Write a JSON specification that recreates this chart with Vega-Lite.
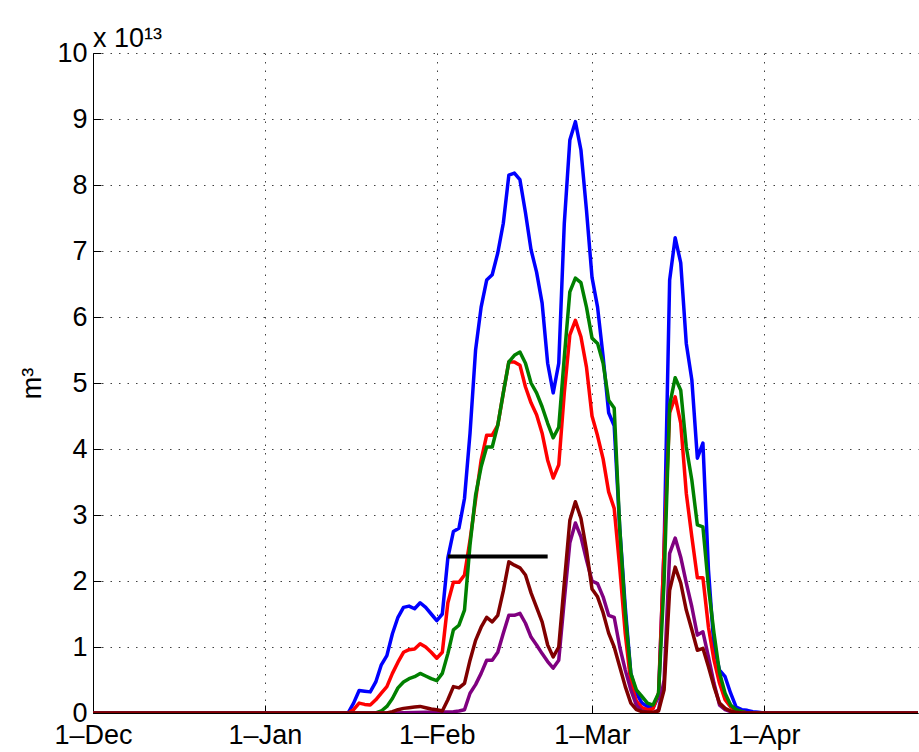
{
  "$schema": "https://vega.github.io/schema/vega-lite/v6.json",
  "width": 825,
  "height": 660,
  "autosize": {"type": "none"},
  "padding": {"left": 93, "top": 53, "right": 1, "bottom": 39},
  "background": "white",
  "config": {"view": {"stroke": null}, "font": "Liberation Sans"},
  "title": {"text": "x 10¹³", "anchor": "start", "frame": "group", "fontSize": 27, "fontWeight": "normal", "font": "Liberation Sans", "color": "black", "offset": -14},
  "datasets": {
    "series": [
      {"s":"blue","date":"2010-12-01","v":0},
      {"s":"blue","date":"2011-01-16","v":0},
      {"s":"blue","date":"2011-01-17","v":0.15e13},
      {"s":"blue","date":"2011-01-18","v":0.34e13},
      {"s":"blue","date":"2011-01-19","v":0.33e13},
      {"s":"blue","date":"2011-01-20","v":0.32e13},
      {"s":"blue","date":"2011-01-21","v":0.47e13},
      {"s":"blue","date":"2011-01-22","v":0.73e13},
      {"s":"blue","date":"2011-01-23","v":0.87e13},
      {"s":"blue","date":"2011-01-24","v":1.2e13},
      {"s":"blue","date":"2011-01-25","v":1.45e13},
      {"s":"blue","date":"2011-01-26","v":1.6e13},
      {"s":"blue","date":"2011-01-27","v":1.62e13},
      {"s":"blue","date":"2011-01-28","v":1.58e13},
      {"s":"blue","date":"2011-01-29","v":1.67e13},
      {"s":"blue","date":"2011-01-30","v":1.6e13},
      {"s":"blue","date":"2011-01-31","v":1.5e13},
      {"s":"blue","date":"2011-02-01","v":1.4e13},
      {"s":"blue","date":"2011-02-02","v":1.5e13},
      {"s":"blue","date":"2011-02-03","v":2.35e13},
      {"s":"blue","date":"2011-02-04","v":2.75e13},
      {"s":"blue","date":"2011-02-05","v":2.8e13},
      {"s":"blue","date":"2011-02-06","v":3.25e13},
      {"s":"blue","date":"2011-02-07","v":4.24e13},
      {"s":"blue","date":"2011-02-08","v":5.5e13},
      {"s":"blue","date":"2011-02-09","v":6.15e13},
      {"s":"blue","date":"2011-02-10","v":6.56e13},
      {"s":"blue","date":"2011-02-11","v":6.64e13},
      {"s":"blue","date":"2011-02-12","v":6.97e13},
      {"s":"blue","date":"2011-02-13","v":7.42e13},
      {"s":"blue","date":"2011-02-14","v":8.15e13},
      {"s":"blue","date":"2011-02-15","v":8.18e13},
      {"s":"blue","date":"2011-02-16","v":8.08e13},
      {"s":"blue","date":"2011-02-17","v":7.58e13},
      {"s":"blue","date":"2011-02-18","v":7.02e13},
      {"s":"blue","date":"2011-02-19","v":6.68e13},
      {"s":"blue","date":"2011-02-20","v":6.21e13},
      {"s":"blue","date":"2011-02-21","v":5.3e13},
      {"s":"blue","date":"2011-02-22","v":4.85e13},
      {"s":"blue","date":"2011-02-23","v":5.3e13},
      {"s":"blue","date":"2011-02-24","v":7.42e13},
      {"s":"blue","date":"2011-02-25","v":8.68e13},
      {"s":"blue","date":"2011-02-26","v":8.96e13},
      {"s":"blue","date":"2011-02-27","v":8.53e13},
      {"s":"blue","date":"2011-02-28","v":7.62e13},
      {"s":"blue","date":"2011-03-01","v":6.6e13},
      {"s":"blue","date":"2011-03-02","v":6.15e13},
      {"s":"blue","date":"2011-03-03","v":5.4e13},
      {"s":"blue","date":"2011-03-04","v":4.55e13},
      {"s":"blue","date":"2011-03-05","v":4.35e13},
      {"s":"blue","date":"2011-03-06","v":2.8e13},
      {"s":"blue","date":"2011-03-07","v":1.6e13},
      {"s":"blue","date":"2011-03-08","v":0.6e13},
      {"s":"blue","date":"2011-03-09","v":0.3e13},
      {"s":"blue","date":"2011-03-10","v":0.15e13},
      {"s":"blue","date":"2011-03-11","v":0.1e13},
      {"s":"blue","date":"2011-03-12","v":0.08e13},
      {"s":"blue","date":"2011-03-13","v":0.25e13},
      {"s":"blue","date":"2011-03-14","v":2.5e13},
      {"s":"blue","date":"2011-03-15","v":6.56e13},
      {"s":"blue","date":"2011-03-16","v":7.2e13},
      {"s":"blue","date":"2011-03-17","v":6.82e13},
      {"s":"blue","date":"2011-03-18","v":5.6e13},
      {"s":"blue","date":"2011-03-19","v":5.05e13},
      {"s":"blue","date":"2011-03-20","v":3.86e13},
      {"s":"blue","date":"2011-03-21","v":4.09e13},
      {"s":"blue","date":"2011-03-22","v":2.17e13},
      {"s":"blue","date":"2011-03-23","v":1.0e13},
      {"s":"blue","date":"2011-03-24","v":0.65e13},
      {"s":"blue","date":"2011-03-25","v":0.55e13},
      {"s":"blue","date":"2011-03-26","v":0.3e13},
      {"s":"blue","date":"2011-03-27","v":0.09e13},
      {"s":"blue","date":"2011-03-28","v":0.05e13},
      {"s":"blue","date":"2011-03-29","v":0.04e13},
      {"s":"blue","date":"2011-03-30","v":0.02e13},
      {"s":"blue","date":"2011-03-31","v":0.01e13},
      {"s":"blue","date":"2011-04-01","v":0},
      {"s":"blue","date":"2011-04-30","v":0},

      {"s":"red","date":"2010-12-01","v":0},
      {"s":"red","date":"2011-01-16","v":0},
      {"s":"red","date":"2011-01-17","v":0.05e13},
      {"s":"red","date":"2011-01-18","v":0.15e13},
      {"s":"red","date":"2011-01-19","v":0.13e13},
      {"s":"red","date":"2011-01-20","v":0.12e13},
      {"s":"red","date":"2011-01-21","v":0.2e13},
      {"s":"red","date":"2011-01-22","v":0.3e13},
      {"s":"red","date":"2011-01-23","v":0.4e13},
      {"s":"red","date":"2011-01-24","v":0.6e13},
      {"s":"red","date":"2011-01-25","v":0.77e13},
      {"s":"red","date":"2011-01-26","v":0.92e13},
      {"s":"red","date":"2011-01-27","v":0.96e13},
      {"s":"red","date":"2011-01-28","v":0.97e13},
      {"s":"red","date":"2011-01-29","v":1.05e13},
      {"s":"red","date":"2011-01-30","v":1.0e13},
      {"s":"red","date":"2011-01-31","v":0.92e13},
      {"s":"red","date":"2011-02-01","v":0.83e13},
      {"s":"red","date":"2011-02-02","v":0.92e13},
      {"s":"red","date":"2011-02-03","v":1.67e13},
      {"s":"red","date":"2011-02-04","v":1.98e13},
      {"s":"red","date":"2011-02-05","v":1.98e13},
      {"s":"red","date":"2011-02-06","v":2.09e13},
      {"s":"red","date":"2011-02-07","v":2.62e13},
      {"s":"red","date":"2011-02-08","v":3.23e13},
      {"s":"red","date":"2011-02-09","v":3.83e13},
      {"s":"red","date":"2011-02-10","v":4.21e13},
      {"s":"red","date":"2011-02-11","v":4.21e13},
      {"s":"red","date":"2011-02-12","v":4.36e13},
      {"s":"red","date":"2011-02-13","v":4.85e13},
      {"s":"red","date":"2011-02-14","v":5.32e13},
      {"s":"red","date":"2011-02-15","v":5.32e13},
      {"s":"red","date":"2011-02-16","v":5.27e13},
      {"s":"red","date":"2011-02-17","v":4.94e13},
      {"s":"red","date":"2011-02-18","v":4.7e13},
      {"s":"red","date":"2011-02-19","v":4.52e13},
      {"s":"red","date":"2011-02-20","v":4.24e13},
      {"s":"red","date":"2011-02-21","v":3.83e13},
      {"s":"red","date":"2011-02-22","v":3.56e13},
      {"s":"red","date":"2011-02-23","v":3.76e13},
      {"s":"red","date":"2011-02-24","v":4.85e13},
      {"s":"red","date":"2011-02-25","v":5.73e13},
      {"s":"red","date":"2011-02-26","v":5.95e13},
      {"s":"red","date":"2011-02-27","v":5.7e13},
      {"s":"red","date":"2011-02-28","v":5.24e13},
      {"s":"red","date":"2011-03-01","v":4.5e13},
      {"s":"red","date":"2011-03-02","v":4.2e13},
      {"s":"red","date":"2011-03-03","v":3.85e13},
      {"s":"red","date":"2011-03-04","v":3.35e13},
      {"s":"red","date":"2011-03-05","v":3.1e13},
      {"s":"red","date":"2011-03-06","v":2.2e13},
      {"s":"red","date":"2011-03-07","v":1.2e13},
      {"s":"red","date":"2011-03-08","v":0.45e13},
      {"s":"red","date":"2011-03-09","v":0.18e13},
      {"s":"red","date":"2011-03-10","v":0.08e13},
      {"s":"red","date":"2011-03-11","v":0.05e13},
      {"s":"red","date":"2011-03-12","v":0.06e13},
      {"s":"red","date":"2011-03-13","v":0.3e13},
      {"s":"red","date":"2011-03-14","v":2.5e13},
      {"s":"red","date":"2011-03-15","v":4.55e13},
      {"s":"red","date":"2011-03-16","v":4.79e13},
      {"s":"red","date":"2011-03-17","v":4.39e13},
      {"s":"red","date":"2011-03-18","v":3.33e13},
      {"s":"red","date":"2011-03-19","v":2.67e13},
      {"s":"red","date":"2011-03-20","v":2.05e13},
      {"s":"red","date":"2011-03-21","v":2.05e13},
      {"s":"red","date":"2011-03-22","v":1.3e13},
      {"s":"red","date":"2011-03-23","v":0.8e13},
      {"s":"red","date":"2011-03-24","v":0.45e13},
      {"s":"red","date":"2011-03-25","v":0.2e13},
      {"s":"red","date":"2011-03-26","v":0.09e13},
      {"s":"red","date":"2011-03-27","v":0.04e13},
      {"s":"red","date":"2011-03-28","v":0.02e13},
      {"s":"red","date":"2011-03-29","v":0},
      {"s":"red","date":"2011-04-30","v":0},

      {"s":"green","date":"2010-12-01","v":0},
      {"s":"green","date":"2011-01-21","v":0},
      {"s":"green","date":"2011-01-22","v":0.03e13},
      {"s":"green","date":"2011-01-23","v":0.1e13},
      {"s":"green","date":"2011-01-24","v":0.22e13},
      {"s":"green","date":"2011-01-25","v":0.38e13},
      {"s":"green","date":"2011-01-26","v":0.47e13},
      {"s":"green","date":"2011-01-27","v":0.52e13},
      {"s":"green","date":"2011-01-28","v":0.55e13},
      {"s":"green","date":"2011-01-29","v":0.6e13},
      {"s":"green","date":"2011-01-30","v":0.56e13},
      {"s":"green","date":"2011-01-31","v":0.52e13},
      {"s":"green","date":"2011-02-01","v":0.49e13},
      {"s":"green","date":"2011-02-02","v":0.6e13},
      {"s":"green","date":"2011-02-03","v":0.9e13},
      {"s":"green","date":"2011-02-04","v":1.26e13},
      {"s":"green","date":"2011-02-05","v":1.33e13},
      {"s":"green","date":"2011-02-06","v":1.56e13},
      {"s":"green","date":"2011-02-07","v":2.55e13},
      {"s":"green","date":"2011-02-08","v":3.3e13},
      {"s":"green","date":"2011-02-09","v":3.73e13},
      {"s":"green","date":"2011-02-10","v":4.03e13},
      {"s":"green","date":"2011-02-11","v":4.03e13},
      {"s":"green","date":"2011-02-12","v":4.36e13},
      {"s":"green","date":"2011-02-13","v":4.85e13},
      {"s":"green","date":"2011-02-14","v":5.32e13},
      {"s":"green","date":"2011-02-15","v":5.42e13},
      {"s":"green","date":"2011-02-16","v":5.47e13},
      {"s":"green","date":"2011-02-17","v":5.3e13},
      {"s":"green","date":"2011-02-18","v":5.0e13},
      {"s":"green","date":"2011-02-19","v":4.85e13},
      {"s":"green","date":"2011-02-20","v":4.64e13},
      {"s":"green","date":"2011-02-21","v":4.39e13},
      {"s":"green","date":"2011-02-22","v":4.17e13},
      {"s":"green","date":"2011-02-23","v":4.33e13},
      {"s":"green","date":"2011-02-24","v":5.39e13},
      {"s":"green","date":"2011-02-25","v":6.38e13},
      {"s":"green","date":"2011-02-26","v":6.59e13},
      {"s":"green","date":"2011-02-27","v":6.52e13},
      {"s":"green","date":"2011-02-28","v":6.15e13},
      {"s":"green","date":"2011-03-01","v":5.68e13},
      {"s":"green","date":"2011-03-02","v":5.6e13},
      {"s":"green","date":"2011-03-03","v":5.3e13},
      {"s":"green","date":"2011-03-04","v":4.74e13},
      {"s":"green","date":"2011-03-05","v":4.62e13},
      {"s":"green","date":"2011-03-06","v":2.8e13},
      {"s":"green","date":"2011-03-07","v":1.5e13},
      {"s":"green","date":"2011-03-08","v":0.6e13},
      {"s":"green","date":"2011-03-09","v":0.35e13},
      {"s":"green","date":"2011-03-10","v":0.25e13},
      {"s":"green","date":"2011-03-11","v":0.15e13},
      {"s":"green","date":"2011-03-12","v":0.12e13},
      {"s":"green","date":"2011-03-13","v":0.3e13},
      {"s":"green","date":"2011-03-14","v":2.0e13},
      {"s":"green","date":"2011-03-15","v":4.67e13},
      {"s":"green","date":"2011-03-16","v":5.08e13},
      {"s":"green","date":"2011-03-17","v":4.89e13},
      {"s":"green","date":"2011-03-18","v":4.03e13},
      {"s":"green","date":"2011-03-19","v":3.53e13},
      {"s":"green","date":"2011-03-20","v":2.85e13},
      {"s":"green","date":"2011-03-21","v":2.82e13},
      {"s":"green","date":"2011-03-22","v":1.91e13},
      {"s":"green","date":"2011-03-23","v":1.21e13},
      {"s":"green","date":"2011-03-24","v":0.61e13},
      {"s":"green","date":"2011-03-25","v":0.3e13},
      {"s":"green","date":"2011-03-26","v":0.12e13},
      {"s":"green","date":"2011-03-27","v":0.05e13},
      {"s":"green","date":"2011-03-28","v":0.02e13},
      {"s":"green","date":"2011-03-29","v":0},
      {"s":"green","date":"2011-04-30","v":0},

      {"s":"purple","date":"2010-12-01","v":0},
      {"s":"purple","date":"2011-01-24","v":0},
      {"s":"purple","date":"2011-01-30","v":0.01e13},
      {"s":"purple","date":"2011-02-04","v":0.02e13},
      {"s":"purple","date":"2011-02-05","v":0.03e13},
      {"s":"purple","date":"2011-02-06","v":0.05e13},
      {"s":"purple","date":"2011-02-07","v":0.3e13},
      {"s":"purple","date":"2011-02-08","v":0.43e13},
      {"s":"purple","date":"2011-02-09","v":0.6e13},
      {"s":"purple","date":"2011-02-10","v":0.8e13},
      {"s":"purple","date":"2011-02-11","v":0.8e13},
      {"s":"purple","date":"2011-02-12","v":0.92e13},
      {"s":"purple","date":"2011-02-13","v":1.21e13},
      {"s":"purple","date":"2011-02-14","v":1.48e13},
      {"s":"purple","date":"2011-02-15","v":1.48e13},
      {"s":"purple","date":"2011-02-16","v":1.51e13},
      {"s":"purple","date":"2011-02-17","v":1.36e13},
      {"s":"purple","date":"2011-02-18","v":1.15e13},
      {"s":"purple","date":"2011-02-19","v":1.03e13},
      {"s":"purple","date":"2011-02-20","v":0.9e13},
      {"s":"purple","date":"2011-02-21","v":0.78e13},
      {"s":"purple","date":"2011-02-22","v":0.68e13},
      {"s":"purple","date":"2011-02-23","v":0.8e13},
      {"s":"purple","date":"2011-02-24","v":1.71e13},
      {"s":"purple","date":"2011-02-25","v":2.58e13},
      {"s":"purple","date":"2011-02-26","v":2.88e13},
      {"s":"purple","date":"2011-02-27","v":2.67e13},
      {"s":"purple","date":"2011-02-28","v":2.32e13},
      {"s":"purple","date":"2011-03-01","v":2.0e13},
      {"s":"purple","date":"2011-03-02","v":1.96e13},
      {"s":"purple","date":"2011-03-03","v":1.76e13},
      {"s":"purple","date":"2011-03-04","v":1.48e13},
      {"s":"purple","date":"2011-03-05","v":1.45e13},
      {"s":"purple","date":"2011-03-06","v":1.0e13},
      {"s":"purple","date":"2011-03-07","v":0.65e13},
      {"s":"purple","date":"2011-03-08","v":0.35e13},
      {"s":"purple","date":"2011-03-09","v":0.12e13},
      {"s":"purple","date":"2011-03-10","v":0.03e13},
      {"s":"purple","date":"2011-03-11","v":0.01e13},
      {"s":"purple","date":"2011-03-12","v":0},
      {"s":"purple","date":"2011-03-13","v":0.05e13},
      {"s":"purple","date":"2011-03-14","v":0.5e13},
      {"s":"purple","date":"2011-03-15","v":2.42e13},
      {"s":"purple","date":"2011-03-16","v":2.65e13},
      {"s":"purple","date":"2011-03-17","v":2.36e13},
      {"s":"purple","date":"2011-03-18","v":1.97e13},
      {"s":"purple","date":"2011-03-19","v":1.61e13},
      {"s":"purple","date":"2011-03-20","v":1.18e13},
      {"s":"purple","date":"2011-03-21","v":1.23e13},
      {"s":"purple","date":"2011-03-22","v":0.85e13},
      {"s":"purple","date":"2011-03-23","v":0.45e13},
      {"s":"purple","date":"2011-03-24","v":0.12e13},
      {"s":"purple","date":"2011-03-25","v":0.05e13},
      {"s":"purple","date":"2011-03-26","v":0.02e13},
      {"s":"purple","date":"2011-03-27","v":0},
      {"s":"purple","date":"2011-04-30","v":0},

      {"s":"maroon","date":"2010-12-01","v":0},
      {"s":"maroon","date":"2011-01-23","v":0},
      {"s":"maroon","date":"2011-01-24","v":0.02e13},
      {"s":"maroon","date":"2011-01-25","v":0.05e13},
      {"s":"maroon","date":"2011-01-26","v":0.07e13},
      {"s":"maroon","date":"2011-01-27","v":0.08e13},
      {"s":"maroon","date":"2011-01-28","v":0.09e13},
      {"s":"maroon","date":"2011-01-29","v":0.1e13},
      {"s":"maroon","date":"2011-01-30","v":0.08e13},
      {"s":"maroon","date":"2011-01-31","v":0.06e13},
      {"s":"maroon","date":"2011-02-01","v":0.05e13},
      {"s":"maroon","date":"2011-02-02","v":0.03e13},
      {"s":"maroon","date":"2011-02-03","v":0.2e13},
      {"s":"maroon","date":"2011-02-04","v":0.4e13},
      {"s":"maroon","date":"2011-02-05","v":0.38e13},
      {"s":"maroon","date":"2011-02-06","v":0.45e13},
      {"s":"maroon","date":"2011-02-07","v":0.8e13},
      {"s":"maroon","date":"2011-02-08","v":1.1e13},
      {"s":"maroon","date":"2011-02-09","v":1.3e13},
      {"s":"maroon","date":"2011-02-10","v":1.45e13},
      {"s":"maroon","date":"2011-02-11","v":1.38e13},
      {"s":"maroon","date":"2011-02-12","v":1.48e13},
      {"s":"maroon","date":"2011-02-13","v":1.85e13},
      {"s":"maroon","date":"2011-02-14","v":2.29e13},
      {"s":"maroon","date":"2011-02-15","v":2.24e13},
      {"s":"maroon","date":"2011-02-16","v":2.2e13},
      {"s":"maroon","date":"2011-02-17","v":2.09e13},
      {"s":"maroon","date":"2011-02-18","v":1.82e13},
      {"s":"maroon","date":"2011-02-19","v":1.6e13},
      {"s":"maroon","date":"2011-02-20","v":1.38e13},
      {"s":"maroon","date":"2011-02-21","v":1.03e13},
      {"s":"maroon","date":"2011-02-22","v":0.85e13},
      {"s":"maroon","date":"2011-02-23","v":1.0e13},
      {"s":"maroon","date":"2011-02-24","v":1.97e13},
      {"s":"maroon","date":"2011-02-25","v":2.92e13},
      {"s":"maroon","date":"2011-02-26","v":3.2e13},
      {"s":"maroon","date":"2011-02-27","v":2.95e13},
      {"s":"maroon","date":"2011-02-28","v":2.47e13},
      {"s":"maroon","date":"2011-03-01","v":1.88e13},
      {"s":"maroon","date":"2011-03-02","v":1.76e13},
      {"s":"maroon","date":"2011-03-03","v":1.52e13},
      {"s":"maroon","date":"2011-03-04","v":1.21e13},
      {"s":"maroon","date":"2011-03-05","v":1.0e13},
      {"s":"maroon","date":"2011-03-06","v":0.7e13},
      {"s":"maroon","date":"2011-03-07","v":0.4e13},
      {"s":"maroon","date":"2011-03-08","v":0.15e13},
      {"s":"maroon","date":"2011-03-09","v":0.05e13},
      {"s":"maroon","date":"2011-03-10","v":0.02e13},
      {"s":"maroon","date":"2011-03-11","v":0.01e13},
      {"s":"maroon","date":"2011-03-12","v":0.01e13},
      {"s":"maroon","date":"2011-03-13","v":0.03e13},
      {"s":"maroon","date":"2011-03-14","v":0.35e13},
      {"s":"maroon","date":"2011-03-15","v":1.86e13},
      {"s":"maroon","date":"2011-03-16","v":2.21e13},
      {"s":"maroon","date":"2011-03-17","v":1.97e13},
      {"s":"maroon","date":"2011-03-18","v":1.56e13},
      {"s":"maroon","date":"2011-03-19","v":1.26e13},
      {"s":"maroon","date":"2011-03-20","v":0.95e13},
      {"s":"maroon","date":"2011-03-21","v":0.98e13},
      {"s":"maroon","date":"2011-03-22","v":0.7e13},
      {"s":"maroon","date":"2011-03-23","v":0.4e13},
      {"s":"maroon","date":"2011-03-24","v":0.15e13},
      {"s":"maroon","date":"2011-03-25","v":0.07e13},
      {"s":"maroon","date":"2011-03-26","v":0.03e13},
      {"s":"maroon","date":"2011-03-27","v":0.01e13},
      {"s":"maroon","date":"2011-03-28","v":0},
      {"s":"maroon","date":"2011-04-30","v":0}
    ],
    "bar": [
      {"start":"2011-02-03","end":"2011-02-21","v":2.37e13}
    ]
  },
  "layer": [
    {
      "data": {"name": "series"},
      "mark": {"type": "line", "strokeWidth": 3.5, "clip": true, "strokeJoin": "round"},
      "encoding": {
        "x": {
          "field": "date", "type": "temporal",
          "scale": {"type": "utc", "domain": [{"year": 2010, "month": 12, "date": 1, "utc": true}, {"year": 2011, "month": 4, "date": 28, "hours": 19, "utc": true}]},
          "axis": {
            "title": null,
            "values": [
              {"year": 2010, "month": 12, "date": 1, "utc": true},
              {"year": 2011, "month": 1, "date": 1, "utc": true},
              {"year": 2011, "month": 2, "date": 1, "utc": true},
              {"year": 2011, "month": 3, "date": 1, "utc": true},
              {"year": 2011, "month": 4, "date": 1, "utc": true}
            ],
            "labelExpr": "utcFormat(datum.value, '%-d–%b')",
            "labelFontSize": 27, "labelFont": "Liberation Sans", "labelColor": "black",
            "labelPadding": 17, "labelFlush": false, "labelOverlap": false,
            "domainColor": "black", "domainWidth": 1,
            "ticks": true, "tickSize": -8, "tickColor": "black", "tickWidth": 1,
            "grid": true, "gridColor": "black", "gridOpacity": 0.75, "gridDash": [1.5, 7], "gridWidth": 1
          }
        },
        "y": {
          "field": "v", "type": "quantitative",
          "scale": {"domain": [0, 1e14], "nice": false, "zero": true},
          "axis": {
            "title": "m³", "titleFontSize": 27, "titleFont": "Liberation Sans", "titleFontWeight": "normal", "titleColor": "black", "titlePadding": 10,
            "values": [0, 1e13, 2e13, 3e13, 4e13, 5e13, 6e13, 7e13, 8e13, 9e13, 1e14],
            "labelExpr": "format(datum.value / 1e13, 'd')",
            "labelFontSize": 27, "labelFont": "Liberation Sans", "labelColor": "black",
            "labelPadding": 14, "labelFlush": false, "labelOverlap": false,
            "domainColor": "black", "domainWidth": 1,
            "ticks": true, "tickSize": -8, "tickColor": "black", "tickWidth": 1,
            "grid": true, "gridColor": "black", "gridOpacity": 0.75, "gridDash": [1.5, 7], "gridWidth": 1
          }
        },
        "color": {
          "field": "s", "type": "nominal",
          "scale": {"domain": ["blue", "red", "green", "purple", "maroon"], "range": ["#0000ff", "#ff0000", "#008000", "#800080", "#800000"]},
          "legend": null
        }
      }
    },
    {
      "data": {"name": "bar"},
      "mark": {"type": "rule", "strokeWidth": 4, "color": "black"},
      "encoding": {
        "x": {"field": "start", "type": "temporal"},
        "x2": {"field": "end"},
        "y": {"field": "v", "type": "quantitative"}
      }
    }
  ]
}
